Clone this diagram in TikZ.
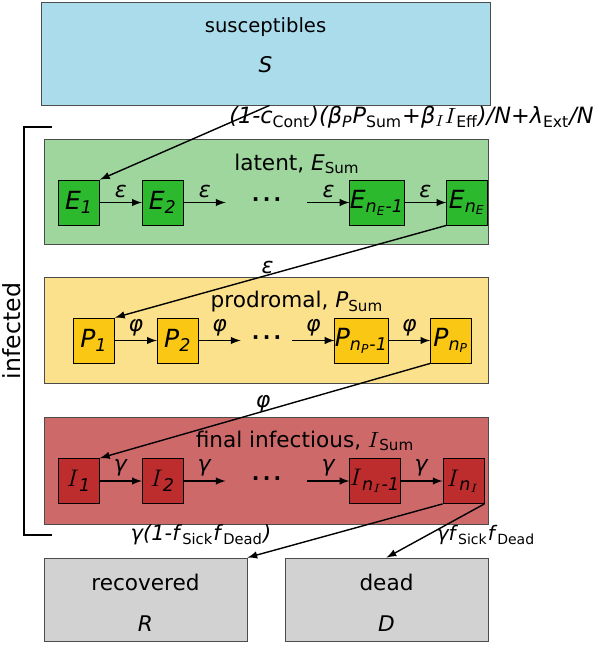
\documentclass[tikz,border=0pt]{standalone}
\usepackage{fontspec}
\setmainfont{DejaVu Sans}
\usetikzlibrary{arrows, positioning}

\definecolor{suscol}{RGB}{170,220,236}
\definecolor{latbg}{RGB}{158,214,158}
\definecolor{latbox}{RGB}{45,185,45}
\definecolor{probg}{RGB}{252,225,140}
\definecolor{probox}{RGB}{250,200,20}
\definecolor{infbg}{RGB}{205,105,105}
\definecolor{infbox}{RGB}{190,45,45}
\definecolor{endbg}{RGB}{210,210,210}

\begin{document}
\begin{tikzpicture}[
    x=0.5pt, y=-0.5pt,
    node distance=21pt,
    every node/.style={font=\fontsize{10.8}{13}\selectfont},
    pop/.style={rectangle, draw=black!70, minimum width=224.5pt, minimum height=51.5pt, inner sep=0pt},
    group/.style={rectangle, draw=black!70, minimum width=222pt, inner sep=0pt},
    stage/.style={rectangle, draw=black, minimum width=20.5pt, minimum height=22.5pt, inner sep=0pt, font=\fontsize{12.5}{14}\selectfont},
    gap/.style={minimum width=40.5pt, inner sep=0pt, font=\fontsize{10}{11}\selectfont},
    flow/.style={midway, above, inner sep=2pt, font=\fontsize{11}{13}\selectfont},
    arrow/.style={line width=0.7pt,->,>=latex}
]
\useasboundingbox (0,0) rectangle (596,645);

% Susceptibles
\node (S) [pop, fill=suscol] at (265.5,53.5) {};
\node [font=\fontsize{9.8}{12}\selectfont] at ([yshift=-12.5pt]S.north) {susceptibles};
\node at ([yshift=-31.5pt]S.north) {\textit{S}};
\node (rate) [font=\fontsize{11.2}{13}\selectfont] at (411.5,117) {\textit{(1-c}\textsubscript{Cont}\textit{)(β}\textsubscript{\textit{P}}\textit{P}\textsubscript{Sum}\textit{+β}\textsubscript{$I$}$I$\textsubscript{Eff}\textit{)/N+λ}\textsubscript{Ext}\textit{/N}};

% Latent
\node (latent) [group, fill=latbg, minimum height=52.5pt] at (266,191.5) {};
\node at (297,164) {latent, \textit{E}\textsubscript{Sum}};
\node (E1) [stage, fill=latbox] at (79,202.5) {\textit{E}\textsubscript{\textit{1}}};
\node (E2) [stage, fill=latbox, right=of E1] {\textit{E}\textsubscript{\textit{2}}};
\node (Edots) [gap, right=of E2] {\textbf{·\,·\,·}};
\node (En1) [stage, fill=latbox, right=of Edots] {\textit{E}\textsubscript{\textit{n\textsubscript{E}-1}}};
\node (En) [stage, fill=latbox, right=of En1] {\textit{E}\textsubscript{\textit{n\textsubscript{E}}}};

% Prodromal
\node (prodromal) [group, fill=probg, minimum height=53pt] at (266,330) {};
\node at (297,302) {prodromal, \textit{P}\textsubscript{Sum}};
\node (P1) [stage, fill=probox] at (94,340.5) {\textit{P}\textsubscript{\textit{1}}};
\node (P2) [stage, fill=probox, right=of P1] {\textit{P}\textsubscript{\textit{2}}};
\node (Pdots) [gap, minimum width=25.5pt, right=of P2] {\textbf{·\,·\,·}};
\node (Pn1) [stage, fill=probox, right=of Pdots] {\textit{P}\textsubscript{\textit{n\textsubscript{P}-1}}};
\node (Pn) [stage, fill=probox, right=of Pn1] {\textit{P}\textsubscript{\textit{n\textsubscript{P}}}};

% Final infectious
\node (final) [group, fill=infbg, minimum height=53.5pt] at (266,470.5) {};
\node at (305,441) {final infectious, $I$\textsubscript{Sum}};
\node (I1) [stage, fill=infbox] at (79,481) {$I$\textsubscript{\textit{1}}};
\node (I2) [stage, fill=infbox, right=of I1] {$I$\textsubscript{\textit{2}}};
\node (Idots) [gap, right=of I2] {\textbf{·\,·\,·}};
\node (In1) [stage, fill=infbox, right=of Idots] {$I$\textsubscript{\textit{n\textsubscript{$I$}-1}}};
\node (In) [stage, fill=infbox, right=of In1] {$I$\textsubscript{\textit{n\textsubscript{$I$}}}};

% Infected bracket
\draw [line width=0.7pt] (52,127) -- (24,127) -- (24,535) -- (52,535);
\node [rotate=90, font=\fontsize{11.8}{14}\selectfont] at (12,331) {infected};

% Recovered and dead
\node (R) [pop, fill=endbg, minimum width=101.5pt, minimum height=41.5pt] at (145.5,599.5) {};
\node at ([yshift=-12.3pt]R.north) {recovered};
\node at ([yshift=-33pt]R.north) {\textit{R}};
\node (D) [pop, fill=endbg, minimum width=101.5pt, minimum height=41.5pt] at (386.5,599.5) {};
\node at ([yshift=-12.3pt]D.north) {dead};
\node at ([yshift=-33pt]D.north) {\textit{D}};
\node (recrate) [font=\fontsize{10.5}{12}\selectfont] at (201,535) {\textit{γ(1-f}\textsubscript{Sick}\textit{f}\textsubscript{Dead}\textit{)}};
\node (deadrate) [font=\fontsize{10}{12}\selectfont] at (486,535) {\textit{γf}\textsubscript{Sick}\textit{f}\textsubscript{Dead}};

% Arrows
\draw [arrow] ([xshift=2pt]S.south) -- (E1.north east);
\draw [arrow] (E1) -- node[flow] {\textit{ε}} (E2);
\draw [arrow] (E2) -- node[flow] {\textit{ε}} (Edots);
\draw [arrow] (Edots) -- node[flow] {\textit{ε}} (En1);
\draw [arrow] (En1) -- node[flow] {\textit{ε}} (En);
\draw [arrow] (En.south west) -- node[flow, inner sep=0pt, xshift=-6.5pt, yshift=-1.5pt] {\textit{ε}} (P1.north east);
\draw [arrow] (P1) -- node[flow] {\textit{φ}} (P2);
\draw [arrow] (P2) -- node[flow] {\textit{φ}} (Pdots);
\draw [arrow] (Pdots) -- node[flow] {\textit{φ}} (Pn1);
\draw [arrow] (Pn1) -- node[flow] {\textit{φ}} (Pn);
\draw [arrow] (Pn.south west) -- node[flow, inner sep=0pt, xshift=-1pt, yshift=-1pt] {\textit{φ}} (I1.north east);
\draw [arrow] (I1) -- node[flow] {\textit{γ}} (I2);
\draw [arrow] (I2) -- node[flow] {\textit{γ}} (Idots);
\draw [arrow] (Idots) -- node[flow] {\textit{γ}} (In1);
\draw [arrow] (In1) -- node[flow] {\textit{γ}} (In);
\draw [arrow] (In.south west) -- (R.north east);
\draw [arrow] (In.south east) -- (D.north);

\end{tikzpicture}
\end{document}
